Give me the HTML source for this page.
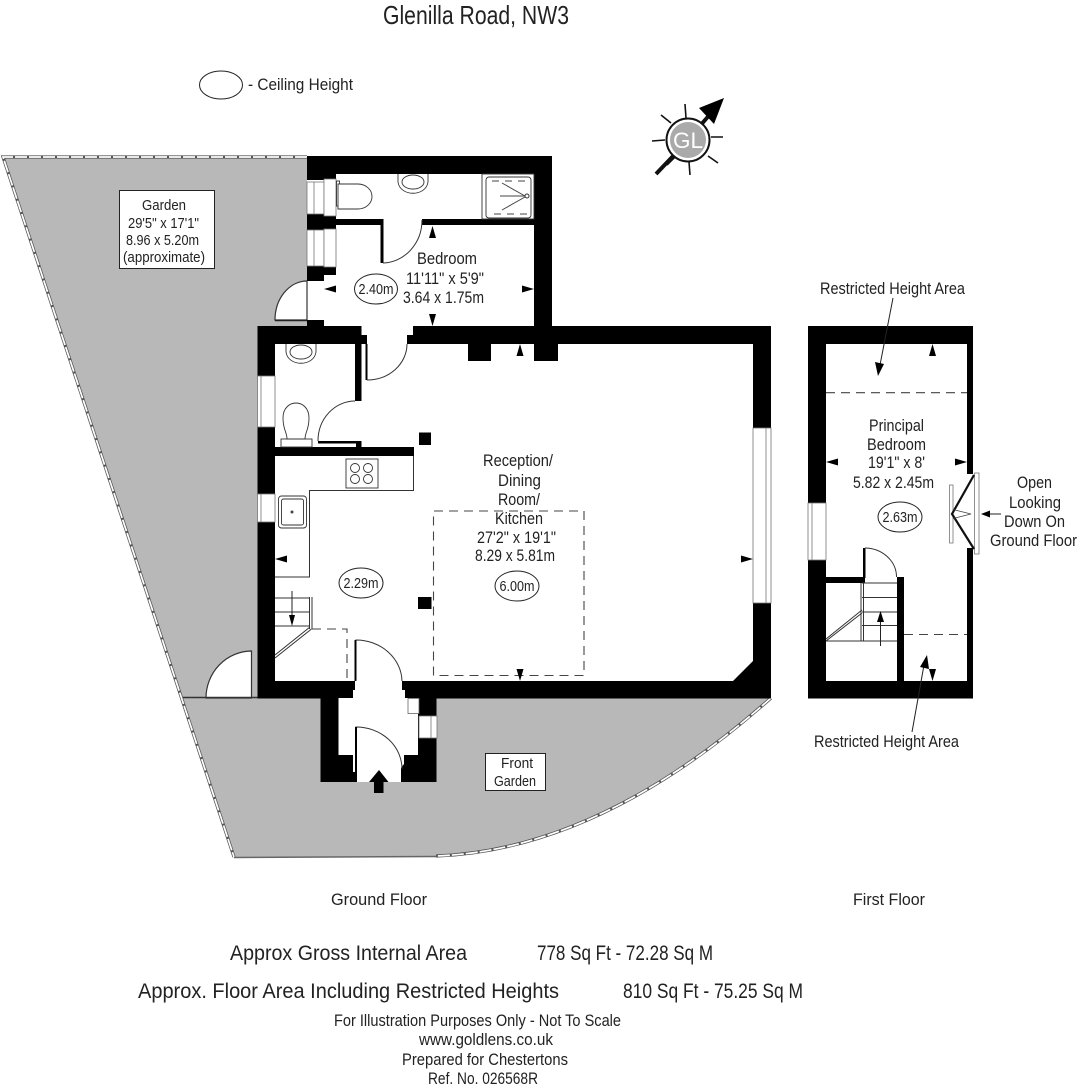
<!DOCTYPE html>
<html><head><meta charset="utf-8"><title>Glenilla Road, NW3</title>
<style>html,body{margin:0;padding:0;background:#fff}svg{display:block}
text{font-family:"Liberation Sans",sans-serif;fill:#222}
.s{font-size:14.5px}.m{font-size:16.5px}.l{font-size:21px}
.f{fill:none;stroke:#333;stroke-width:1}
.fo{fill:none;stroke:#555;stroke-width:3.2}.fi{fill:none;stroke:#fff;stroke-width:1.7;stroke-dasharray:12 2}
.d{fill:#fff;stroke:#333;stroke-width:1.2}.w{fill:#fff;stroke:#777;stroke-width:.8}
.dash{fill:none;stroke:#444;stroke-width:1.1;stroke-dasharray:9 6}
</style></head><body>
<svg xmlns="http://www.w3.org/2000/svg" width="1080" height="1088" viewBox="0 0 1080 1088">
<!-- garden -->
<path d="M3,156 L307,156 L307,330 L258,330 L258,698 L771,698 Q600,850 436,856 L234,857 Z" fill="#b8b8b8"/>
<path class="fo" d="M307,157 L3,157 L234,857"/><path class="fi" d="M307,157 L3,157 L234,857"/>
<path d="M234,857.500 L436,856.500" stroke="#666" stroke-width="1.500" fill="none"/>
<path class="fo" d="M771,698 Q600,850 436,856"/><path class="fi" d="M771,698 Q600,850 436,856"/>
<path class="d" d="M251.500,651 V698 H206 A46,47 0 0 1 251.500,651 Z"/>
<path d="M183,697.500 H258" stroke="#333" stroke-width="1.500"/>
<!-- building interior -->
<rect x="307" y="156" width="245" height="180" fill="#fff"/>
<rect x="258" y="326" width="513" height="372" fill="#fff"/>
<path class="d" d="M307,281 A32,39 0 0 0 275,320 H307 Z"/>
<rect x="275" y="320" width="32" height="6" fill="#b8b8b8"/>
<path d="M275,320.500 H307" stroke="#222" stroke-width="1.500"/>
<!-- walls -->
<g fill="#000">
<rect x="307" y="156" width="245" height="18"/>
<rect x="534" y="156" width="18" height="188"/>
<rect x="307" y="156" width="29" height="24"/>
<rect x="307" y="214" width="29" height="16"/>
<rect x="307" y="266" width="17" height="15"/>
<rect x="324" y="267" width="12" height="8"/>
<rect x="336" y="219" width="45" height="6"/>
<rect x="380.500" y="219" width="3" height="44"/>
<rect x="422" y="219" width="112" height="6"/>
<rect x="307" y="320" width="17" height="7"/>
<rect x="257.500" y="326" width="104" height="18"/>
<rect x="361" y="335" width="6" height="9"/>
<rect x="407" y="335" width="8" height="9"/>
<rect x="413" y="326" width="358" height="18"/>
<rect x="468" y="344" width="23" height="17"/>
<rect x="534" y="344" width="24" height="17"/>
<rect x="355" y="344" width="6.500" height="57"/>
<rect x="365.500" y="344" width="2" height="36"/>
<rect x="257.500" y="326" width="17.500" height="372"/>
<rect x="753" y="326" width="18" height="372"/>
<rect x="318" y="441" width="39" height="2.500"/>
<rect x="356" y="441" width="5.500" height="7"/>
<rect x="275" y="447" width="139" height="9"/>
<rect x="257.500" y="681" width="98" height="17.500"/>
<rect x="402" y="681" width="369" height="17.500"/>
<path d="M753,661 L733,681 L753,690 Z"/>
<rect x="419" y="432.500" width="12" height="12.500"/>
<rect x="418" y="597" width="13.500" height="12"/>
<!-- porch -->
<rect x="320.500" y="698" width="116" height="84"/>
<!-- first floor -->
<rect x="808" y="326" width="165" height="18"/>
<rect x="808" y="326" width="18" height="372"/>
<rect x="808" y="681" width="165" height="17.500"/>
<rect x="967" y="326" width="6" height="148"/>
<rect x="967" y="548" width="6" height="150"/>
<rect x="826" y="577" width="39" height="6"/>
<rect x="863" y="548" width="2.500" height="30"/>
<rect x="897" y="577" width="7" height="104"/>
</g>
<!-- porch interior -->
<path fill="#fff" d="M355,680 V690 H353 V698 H338.500 V755 H353 V772 H356 V782 H401 V768 L404,764 V755 H418 V713.500 H419 V698 H405 V690 H402 V680 Z"/>
<rect x="408" y="698.500" width="11" height="15" fill="#fff" stroke="#666" stroke-width=".8"/>
<path class="f" d="M356,681 V640 A46,42 0 0 1 402,681" stroke-width="1.300"/>
<rect x="354.500" y="640" width="2" height="41"/>
<path class="f" d="M356,782 V727 A46,42 0 0 1 402,769" stroke-width="1.300"/>
<rect x="355" y="727" width="2" height="55"/>
<path d="M379,770 L388.500,782 H383.500 V793 H374 V782 H369 Z" fill="#000"/>
<!-- door arcs -->
<path class="f" d="M383,263 A40,43 0 0 0 422,220"/>
<path class="f" d="M367,380 A40,36 0 0 0 407,344"/>
<path class="f" d="M355,401 A37,40 0 0 0 318,441"/>
<path class="f" d="M865,548 A32,29 0 0 1 896.500,577"/>
<!-- windows -->
<g class="w">
<rect x="307" y="182" width="17" height="32"/><rect x="324" y="179" width="12" height="37"/>
<path d="M314,182 V214"/>
<rect x="307" y="230" width="17" height="36"/><rect x="324" y="229" width="12" height="38"/>
<path d="M314,230 V266"/>
<rect x="257.500" y="376" width="17.500" height="51"/><path d="M261,376 V427"/>
<rect x="257.500" y="494" width="17.500" height="28"/><path d="M261,494 V522"/>
<rect x="753" y="428" width="18" height="175"/><path d="M766,428 V603"/>
<rect x="419" y="716" width="18" height="22"/><path d="M431,716 V738"/>
<rect x="808" y="503" width="18" height="57"/><path d="M812,503 V560"/>
</g>
<!-- bathroom fixtures -->
<g fill="#fff" stroke="#333" stroke-width=".9">
<rect x="336.500" y="181" width="3" height="25"/>
<path d="M338,184 H358 A14,12.500 0 0 1 358,209 H338 Z"/>
<path d="M398,174 V182 C400,197 426,197 428,182 V174"/><ellipse cx="413" cy="182" rx="11" ry="7"/>
<path d="M286,344 V352 C288,367 314,367 316,352 V344"/><ellipse cx="301" cy="352" rx="11" ry="7"/>
<rect x="281" y="439" width="31" height="8"/>
<path d="M287,439 C287,432 283,430 283,418 C283,398 309,398 309,418 C309,430 305,432 305,439 Z"/>
<rect x="482" y="174" width="52" height="45"/>
<rect x="486" y="177" width="45" height="41" rx="3"/>
<rect x="346" y="459" width="32" height="29"/>
<circle cx="355" cy="468" r="4.500"/><circle cx="368" cy="468" r="4.500"/><circle cx="355" cy="479" r="4.500"/><circle cx="368" cy="479" r="4.500"/>
<rect x="278.500" y="496" width="28" height="32" rx="3"/><rect x="281.500" y="499" width="22" height="26" rx="2"/>
</g>
<circle cx="292" cy="512" r="1.500" fill="#444"/>
<path d="M525,196 L502,183 M526,196 H500 M525,197 L502,210" stroke="#444" stroke-width="1" fill="none"/>
<circle cx="527" cy="196" r="2" fill="#fff" stroke="#333"/>
<path d="M492,181 H528 M494,214 H528" stroke="#444" stroke-width="1" stroke-dasharray="7 6" fill="none"/>
<!-- kitchen counter -->
<path class="f" d="M413.500,456 V490.500 H309.500 V577 H275"/>
<!-- ground stairs -->
<path class="f" d="M275,598 H310 M275,612 H310 M275,626 H310 M309.500,597 V629 M312,597 V629 M310,627 L275,655 M311.500,629 L275,658"/>
<path d="M292,591 V615" stroke="#222"/><path d="M289,615 L295,615 L292,626 Z" fill="#000"/>
<path class="dash" d="M312,629 H347 V681" stroke-dasharray="6 4"/>
<path class="dash" d="M433.500,675.500 V511 H584 V675.500 H433.500"/>
<!-- first floor stairs etc. -->
<path class="f" d="M862,583 H897 M862,597.500 H897 M862,612 H897 M862,625.500 H897 M826,641 H897 M861,583 V641 M863.500,583 V641 M862,610 L826,639 M862,613 L826,641"/>
<path d="M880.500,646 V620" stroke="#222"/><path d="M877,622 L884,622 L880.500,611 Z" fill="#000"/>
<path class="dash" d="M826,392.700 H967"/><path class="dash" d="M904,634.500 H967"/>
<!-- skylight -->
<rect x="974.500" y="473" width="4.500" height="81" class="w"/><rect x="949.500" y="485" width="3.500" height="58" class="w"/>
<path d="M974,475 L952,514 L974,549" fill="none" stroke="#111" stroke-width="2.200"/>
<path d="M953,509.500 L971,514 L953,518.500" fill="none" stroke="#444" stroke-width=".8"/>
<path d="M1001,514 H987" stroke="#222"/><path d="M981,514 L990,510.500 V517.500 Z" fill="#000"/>
<!-- leader arrows -->
<path d="M893,298 L880,365" stroke="#222"/><path d="M875,362 L884,364 L878,376 Z" fill="#000"/>
<path d="M912,732 L924,665" stroke="#222"/><path d="M920,667 L929,669 L927,655 Z" fill="#000"/>
<!-- dimension triangles -->
<g fill="#000">
<path d="M432.500,226 L429,238 H436 Z"/><path d="M432.500,326 L429,314 H436 Z"/>
<path d="M324,289 L336,285.500 V292.500 Z"/><path d="M534,289 L522,285.500 V292.500 Z"/>
<path d="M520,344 L516.500,356 H523.500 Z"/><path d="M520,681 L516.500,669 H523.500 Z"/>
<path d="M275,559 L287,555.500 V562.500 Z"/><path d="M753,559 L741,555.500 V562.500 Z"/>
<path d="M932.500,344 L929,356 H936 Z"/><path d="M932.500,681 L929,669 H936 Z"/>
<path d="M826,462 L838,458.500 V465.500 Z"/><path d="M967,462 L955,458.500 V465.500 Z"/>
</g>
<!-- compass -->
<g stroke="#111" fill="none">
<path stroke-width="1.600" d="M685,104 L686,118 M661,115 L671,123 M652,141 L665,140 M711,137 L723,137 M708,156 L718,163 M689,162 L690,175 M675,157 L667,165" />
<path stroke-width="4" d="M656,174 L676,153 M699,127 L712,112"/>
</g>
<path d="M724,98 L699,108 L714,124 Z" fill="#000"/>
<circle cx="688" cy="140" r="21.500" fill="#fff" stroke="#111" stroke-width="2"/>
<circle cx="688" cy="140" r="18" fill="#aaa"/>
<text x="673" y="148" font-size="22" style="fill:#fff" textLength="30" lengthAdjust="spacingAndGlyphs">GL</text>
<!-- boxes -->
<rect x="119.500" y="190.500" width="95" height="78" fill="#fff" stroke="#222"/>
<rect x="485.500" y="753.500" width="60" height="37" fill="#fff" stroke="#222"/>
<g fill="#fff" stroke="#222" stroke-width="1">
<ellipse cx="221" cy="85" rx="21.500" ry="14"/>
<ellipse cx="376" cy="289" rx="21.500" ry="15"/>
<ellipse cx="361" cy="583" rx="22" ry="15"/>
<ellipse cx="517" cy="586" rx="22" ry="15"/>
<ellipse cx="900" cy="517" rx="22" ry="15"/>
</g>
<!-- text -->
<g>
<text x="383" y="24" style="font-size:26px" textLength="186" lengthAdjust="spacingAndGlyphs">Glenilla Road, NW3</text>
<text class="m" x="248" y="90" textLength="105" lengthAdjust="spacingAndGlyphs">- Ceiling Height</text>
<text class="s" x="142" y="210" textLength="44" lengthAdjust="spacingAndGlyphs">Garden</text>
<text class="s" x="128" y="228" textLength="71" lengthAdjust="spacingAndGlyphs">29'5" x 17'1"</text>
<text class="s" x="126" y="245" textLength="73" lengthAdjust="spacingAndGlyphs">8.96 x 5.20m</text>
<text class="s" x="123" y="262" textLength="82" lengthAdjust="spacingAndGlyphs">(approximate)</text>
<text class="m" x="417" y="264" textLength="60" lengthAdjust="spacingAndGlyphs">Bedroom</text>
<text class="m" x="406" y="284" textLength="78" lengthAdjust="spacingAndGlyphs">11'11" x 5'9"</text>
<text class="m" x="403" y="303" textLength="81" lengthAdjust="spacingAndGlyphs">3.64 x 1.75m</text>
<text class="s" x="358.500" y="294" textLength="35" lengthAdjust="spacingAndGlyphs">2.40m</text>
<text class="s" x="343.500" y="588" textLength="35" lengthAdjust="spacingAndGlyphs">2.29m</text>
<text class="s" x="499.500" y="591" textLength="35" lengthAdjust="spacingAndGlyphs">6.00m</text>
<text class="s" x="882.500" y="522" textLength="35" lengthAdjust="spacingAndGlyphs">2.63m</text>
<text class="m" x="483" y="466" textLength="70" lengthAdjust="spacingAndGlyphs">Reception/</text>
<text class="m" x="498" y="486" textLength="43" lengthAdjust="spacingAndGlyphs">Dining</text>
<text class="m" x="498" y="505" textLength="42" lengthAdjust="spacingAndGlyphs">Room/</text>
<text class="m" x="495" y="524" textLength="48" lengthAdjust="spacingAndGlyphs">Kitchen</text>
<text class="m" x="477" y="543" textLength="79" lengthAdjust="spacingAndGlyphs">27'2" x 19'1"</text>
<text class="m" x="475" y="561" textLength="80" lengthAdjust="spacingAndGlyphs">8.29 x 5.81m</text>
<text class="s" x="501" y="768" textLength="32" lengthAdjust="spacingAndGlyphs">Front</text>
<text class="s" x="494" y="786" textLength="42" lengthAdjust="spacingAndGlyphs">Garden</text>
<text class="m" x="820" y="294" textLength="145" lengthAdjust="spacingAndGlyphs">Restricted Height Area</text>
<text class="m" x="814" y="747" textLength="145" lengthAdjust="spacingAndGlyphs">Restricted Height Area</text>
<text class="m" x="869" y="431" textLength="55" lengthAdjust="spacingAndGlyphs">Principal</text>
<text class="m" x="867" y="450" textLength="59" lengthAdjust="spacingAndGlyphs">Bedroom</text>
<text class="m" x="868" y="468" textLength="57" lengthAdjust="spacingAndGlyphs">19'1" x 8'</text>
<text class="m" x="853" y="488" textLength="81" lengthAdjust="spacingAndGlyphs">5.82 x 2.45m</text>
<text class="m" x="1017" y="488" textLength="35" lengthAdjust="spacingAndGlyphs">Open</text>
<text class="m" x="1009" y="508" textLength="52" lengthAdjust="spacingAndGlyphs">Looking</text>
<text class="m" x="1004" y="527" textLength="61" lengthAdjust="spacingAndGlyphs">Down On</text>
<text class="m" x="990" y="546" textLength="87" lengthAdjust="spacingAndGlyphs">Ground Floor</text>
<text class="m" x="331" y="905" textLength="96" lengthAdjust="spacingAndGlyphs">Ground Floor</text>
<text class="m" x="853" y="905" textLength="72" lengthAdjust="spacingAndGlyphs">First Floor</text>
<text class="l" x="230" y="960" textLength="237" lengthAdjust="spacingAndGlyphs">Approx Gross Internal Area</text>
<text class="l" x="537" y="960" textLength="176" lengthAdjust="spacingAndGlyphs">778 Sq Ft - 72.28 Sq M</text>
<text class="l" x="138" y="998" textLength="421" lengthAdjust="spacingAndGlyphs">Approx. Floor Area Including Restricted Heights</text>
<text class="l" x="623" y="998" textLength="180" lengthAdjust="spacingAndGlyphs">810 Sq Ft - 75.25 Sq M</text>
<text class="m" x="334" y="1026" textLength="287" lengthAdjust="spacingAndGlyphs">For Illustration Purposes Only - Not To Scale</text>
<text class="m" x="419" y="1045" textLength="134" lengthAdjust="spacingAndGlyphs">www.goldlens.co.uk</text>
<text class="m" x="402" y="1065" textLength="166" lengthAdjust="spacingAndGlyphs">Prepared for Chestertons</text>
<text class="m" x="428" y="1084" textLength="110" lengthAdjust="spacingAndGlyphs">Ref. No. 026568R</text>
</g>
</svg>
</body></html>
